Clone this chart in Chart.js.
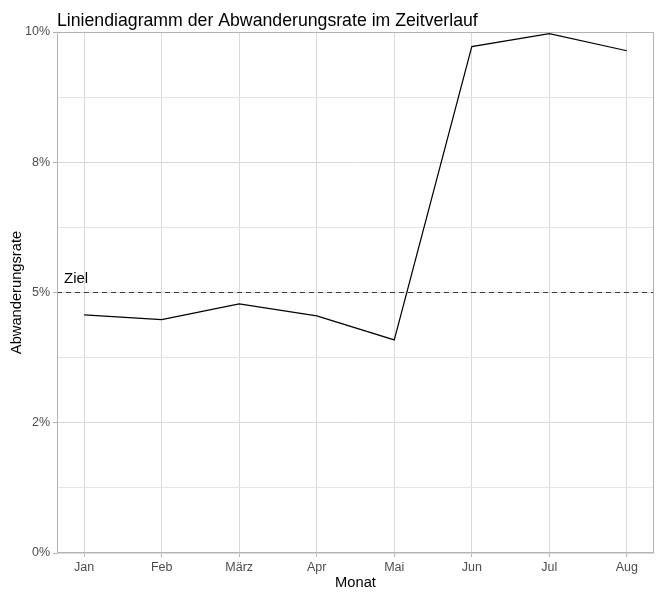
<!DOCTYPE html>
<html>
<head>
<meta charset="utf-8">
<script src="https://cdn.jsdelivr.net/npm/chart.js@4/dist/chart.umd.min.js"></script>
<style>
  html, body { margin: 0; padding: 0; background: #fff; }
  #churnChart { display: block; }
</style>
</head>
<body>
<canvas id="churnChart" width="662" height="598"></canvas>
<script>
// Data
const monate = ['Jan', 'Feb', 'März', 'Apr', 'Mai', 'Jun', 'Jul', 'Aug'];
const abwanderungsrate = [4.57, 4.48, 4.78, 4.55, 4.09, 9.72, 9.97, 9.64];
const zielWert = 5;
const yMajorTicks = [0, 2.5, 5, 7.5, 10];
const yMinorTicks = [1.25, 3.75, 6.25, 8.75];
const yTickLabels = ['0%', '2%', '5%', '8%', '10%'];

const FONT = "'Liberation Sans', Arial, sans-serif";
const X_MIN = 0.65, X_MAX = monate.length + 0.35;

Chart.defaults.font.family = FONT;

// Title, "Ziel" label and panel border
const annotations = {
    id: 'annotations',
    afterDraw(chart) {
        const ctx = chart.ctx;
        const area = chart.chartArea;
        const x = chart.scales.x, y = chart.scales.y;
        ctx.save();
        ctx.fillStyle = '#000';
        ctx.textBaseline = 'alphabetic';
        ctx.textAlign = 'left';
        ctx.font = '17.7px ' + FONT;
        ctx.fillText('Liniendiagramm der Abwanderungsrate im Zeitverlauf', area.left, 26);
        ctx.font = '15px ' + FONT;
        ctx.fillText('Ziel', x.getPixelForValue(0.74), y.getPixelForValue(5.18));
        ctx.strokeStyle = '#b3b3b3';
        ctx.lineWidth = 1;
        ctx.strokeRect(Math.round(area.left) + 0.5, Math.round(area.top) + 0.5,
            Math.round(area.right - area.left) - 1, Math.round(area.bottom - area.top) - 1);
        ctx.restore();
    }
};

const ctx = document.getElementById('churnChart').getContext('2d');
const churnChart = new Chart(ctx, {
    type: 'line',
    data: {
        datasets: [{
            label: 'Abwanderungsrate',
            data: monate.map((m, i) => ({ x: i + 1, y: abwanderungsrate[i] })),
            borderColor: '#000',
            borderWidth: 1.2,
            pointRadius: 0,
            tension: 0
        }, {
            label: 'Ziel',
            data: [{ x: X_MIN, y: zielWert }, { x: X_MAX, y: zielWert }],
            borderColor: '#3a3a3a',
            borderWidth: 1,
            borderDash: [5, 4],
            pointRadius: 0
        }]
    },
    options: {
        responsive: false,
        animation: false,
        devicePixelRatio: 1,
        layout: { padding: { top: 32, right: 8, left: 0, bottom: 0 } },
        plugins: {
            legend: { display: false },
            tooltip: { enabled: false }
        },
        scales: {
            x: {
                type: 'linear',
                min: X_MIN,
                max: X_MAX,
                afterBuildTicks: scale => {
                    scale.ticks = monate.map((m, i) => ({ value: i + 1 }));
                },
                afterFit: scale => { scale.height = 45; },
                ticks: {
                    autoSkip: false,
                    maxRotation: 0,
                    padding: 3,
                    color: '#4d4d4d',
                    font: { size: 12.5 },
                    callback: v => monate[Math.round(v) - 1]
                },
                grid: {
                    color: '#dadada',
                    lineWidth: 1,
                    tickLength: 4,
                    tickColor: '#b3b3b3'
                },
                border: { display: false },
                title: {
                    display: true,
                    text: 'Monat',
                    color: '#000',
                    font: { size: 14.7 },
                    padding: { top: 0, bottom: 6 }
                }
            },
            y: {
                type: 'linear',
                min: 0,
                max: 10,
                afterBuildTicks: scale => {
                    scale.ticks = yMajorTicks.concat(yMinorTicks)
                        .sort((a, b) => a - b)
                        .map(v => ({ value: v }));
                },
                afterFit: scale => { scale.width = 57; },
                ticks: {
                    autoSkip: false,
                    padding: 3,
                    color: '#4d4d4d',
                    font: { size: 12.5 },
                    callback: v => {
                        const i = yMajorTicks.indexOf(v);
                        return i >= 0 ? yTickLabels[i] : '';
                    }
                },
                grid: {
                    color: c => yMajorTicks.includes(c.tick.value) ? '#dadada' : '#e4e4e4',
                    lineWidth: 1,
                    tickLength: 4,
                    tickColor: c => yMajorTicks.includes(c.tick.value) ? '#b3b3b3' : 'rgba(0,0,0,0)'
                },
                border: { display: false },
                title: {
                    display: true,
                    text: 'Abwanderungsrate',
                    color: '#000',
                    font: { size: 14.7 },
                    padding: { top: 8, bottom: 0 }
                }
            }
        }
    },
    plugins: [annotations]
});
</script>
</body>
</html>
